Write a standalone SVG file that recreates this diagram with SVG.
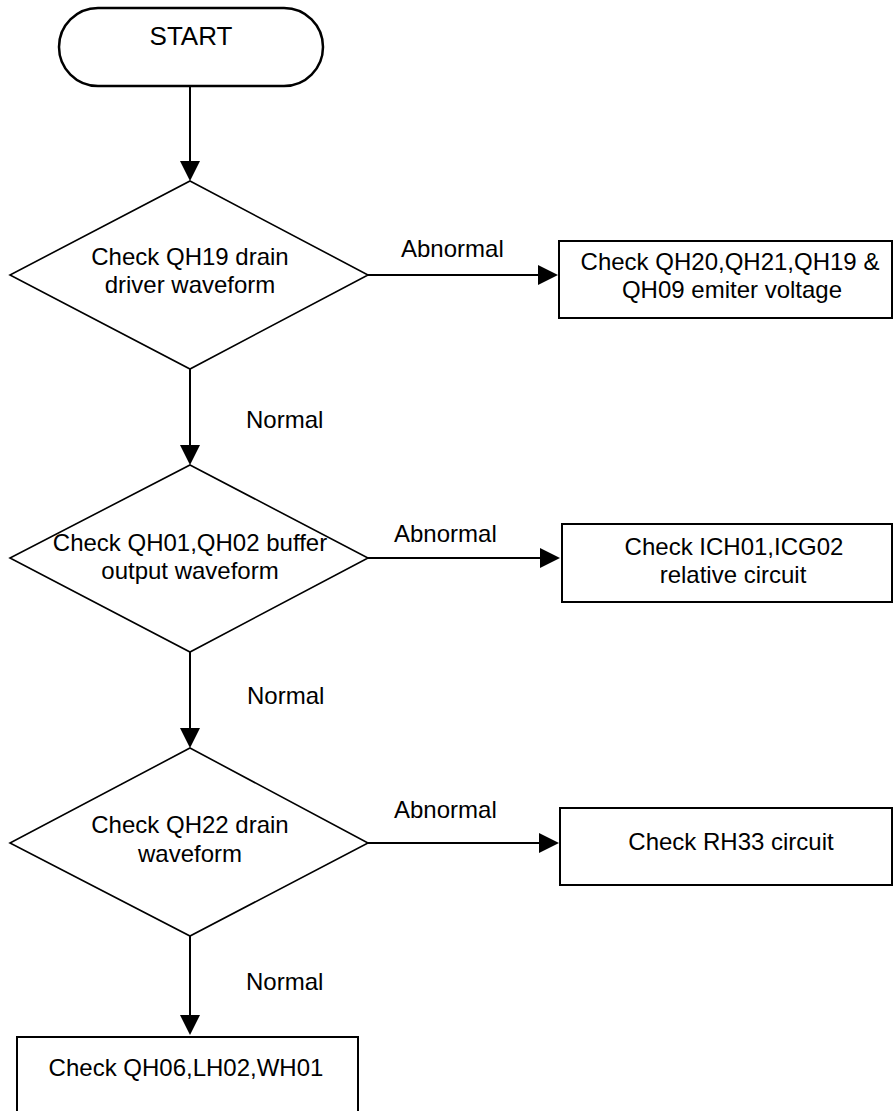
<svg xmlns="http://www.w3.org/2000/svg" width="893" height="1111" viewBox="0 0 893 1111">
<style>
  .shape { fill: #ffffff; stroke: #000000; }
  .term { stroke-width: 2.5; }
  .dec { stroke-width: 1.6; }
  .box { stroke-width: 2; }
  .conn { stroke: #000000; stroke-width: 2; fill: none; marker-end: url(#arrow); }
  text { font-family: "Liberation Sans", Arial, sans-serif; font-size: 24px; fill: #000000; }
  .c { text-anchor: middle; }
  .big { font-size: 26px; }
</style>
<defs>
  <marker id="arrow" viewBox="0 0 20 20" refX="18" refY="10" markerWidth="20" markerHeight="20" markerUnits="userSpaceOnUse" orient="auto">
    <path d="M0,0 L20,10 L0,20 Z" fill="#000000"/>
  </marker>
</defs>
<rect width="893" height="1111" fill="#ffffff"/>

<g id="connectors">
  <line class="conn" x1="190" y1="86" x2="190" y2="179"/>
  <line class="conn" x1="368" y1="275" x2="556" y2="275"/>
  <line class="conn" x1="190" y1="369" x2="190" y2="463"/>
  <line class="conn" x1="368" y1="558" x2="558" y2="558"/>
  <line class="conn" x1="190" y1="652" x2="190" y2="746"/>
  <line class="conn" x1="368" y1="843" x2="557" y2="843"/>
  <line class="conn" x1="190" y1="936" x2="190" y2="1033"/>
  <text x="401" y="257">Abnormal</text>
  <text x="246" y="428">Normal</text>
  <text x="394" y="542">Abnormal</text>
  <text x="247" y="704">Normal</text>
  <text x="394" y="818">Abnormal</text>
  <text x="246" y="990">Normal</text>
</g>

<g id="start">
  <rect class="shape term" x="59" y="8" width="264" height="78" rx="39" ry="39"/>
  <text class="c big" x="191" y="45">START</text>
</g>

<g id="decision1">
  <polygon class="shape dec" points="190,181 368,275 190,369 10,275"/>
  <text class="c" x="190" y="265">Check QH19 drain</text>
  <text class="c" x="190" y="293">driver waveform</text>
</g>

<g id="box1">
  <rect class="shape box" x="559" y="241" width="333" height="77"/>
  <text class="c" x="730" y="270">Check QH20,QH21,QH19 &amp;</text>
  <text class="c" x="732" y="298">QH09 emiter voltage</text>
</g>

<g id="decision2">
  <polygon class="shape dec" points="190,465 368,558 190,652 10,558"/>
  <text class="c" x="190" y="551">Check QH01,QH02 buffer</text>
  <text class="c" x="190" y="579">output waveform</text>
</g>

<g id="box2">
  <rect class="shape box" x="562" y="524" width="330" height="78"/>
  <text class="c" x="734" y="555">Check ICH01,ICG02</text>
  <text class="c" x="733" y="583">relative circuit</text>
</g>

<g id="decision3">
  <polygon class="shape dec" points="190,748 368,843 190,936 10,843"/>
  <text class="c" x="190" y="833">Check QH22 drain</text>
  <text class="c" x="190" y="862">waveform</text>
</g>

<g id="box3">
  <rect class="shape box" x="560" y="808" width="332" height="77"/>
  <text class="c" x="731" y="850">Check RH33 circuit</text>
</g>

<g id="box4">
  <rect class="shape box" x="17" y="1037" width="341" height="90"/>
  <text class="c" x="186" y="1076">Check QH06,LH02,WH01</text>
</g>
</svg>
